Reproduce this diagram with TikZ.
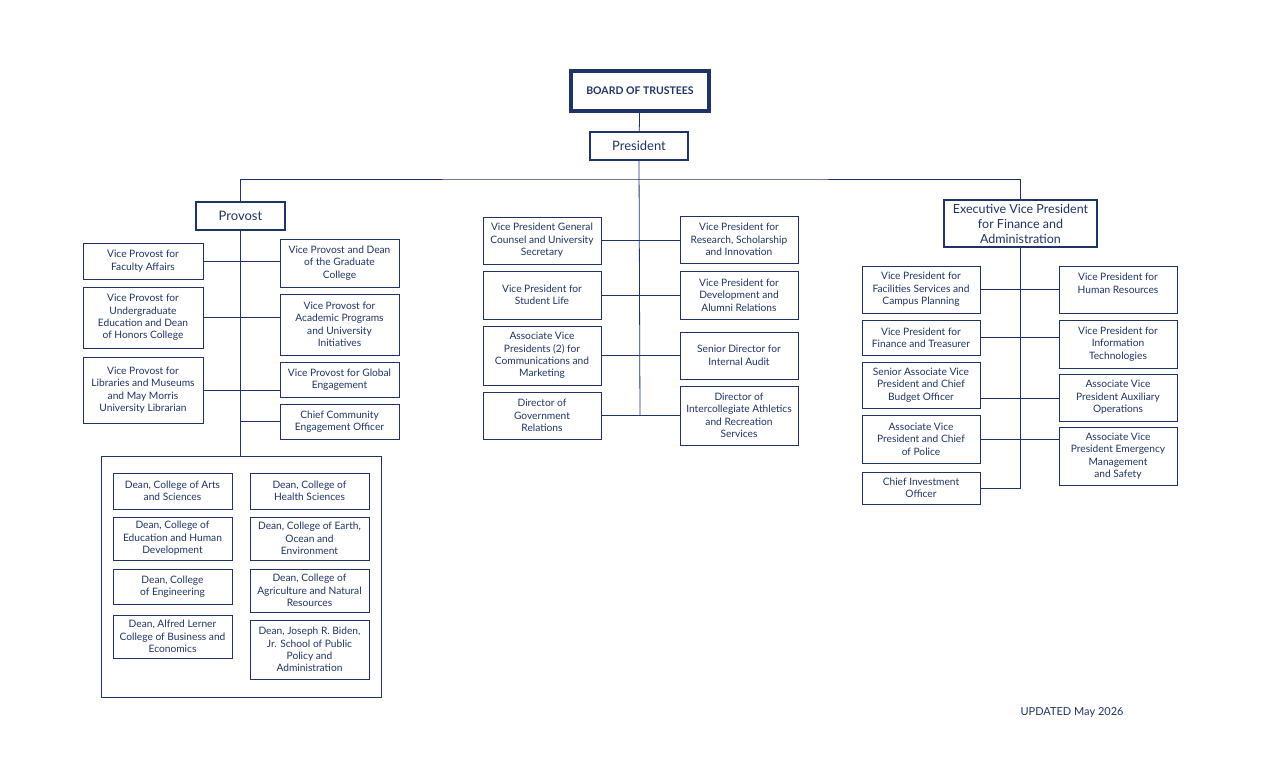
\documentclass[tikz,border=0pt]{standalone}
\usepackage{fontspec}
\setmainfont{Lato}
\definecolor{navy}{HTML}{1F3464}
\tikzset{
  box/.style={draw=navy, line width=0.8pt, inner sep=0pt, align=center, text=navy,
    font=\fontsize{10.2}{12.4}\selectfont},
  head/.style={box, line width=2.4pt, font=\fontsize{13}{15}\selectfont},
  wire/.style={draw=navy, line width=0.8pt}
}
\newcommand\orgbox[7][box]{\node[#1, minimum width=#5pt-#3pt, minimum height=#6pt-#4pt]
  (#2) at ({(#3+#5)/2},{(#4+#6)/2}) {#7};}
\begin{document}
\begin{tikzpicture}[x=1pt, y=-1pt]
\useasboundingbox (0,0) rectangle (1280,773);

% top
\orgbox[head, line width=3.4pt, font=\bfseries\fontsize{10.5}{12}\selectfont]{board}{571}{71}{709}{111}{BOARD OF TRUSTEES}
\orgbox[head]{pres}{590}{132}{688}{160}{President}
\coordinate (bar) at (640,179);
\coordinate (midend) at (640,416);

% provost
\orgbox[head]{prov}{196}{202}{285}{230}{Provost}
\orgbox{fa}{83}{243}{203}{279}{Vice Provost for\\Faculty Affairs}
\orgbox{ue}{83}{287}{203}{348}{Vice Provost for\\Undergraduate\\Education and Dean\\of Honors College}
\orgbox{lib}{83}{357}{203}{423}{Vice Provost for\\Libraries and Museums\\and May Morris\\University Librarian}
\orgbox{grad}{280}{239}{399}{287}{Vice Provost and Dean\\of the Graduate\\College}
\orgbox{acad}{280}{294}{399}{355}{Vice Provost for\\Academic Programs\\and University\\Initiatives}
\orgbox{glob}{280}{362}{399}{397}{Vice Provost for Global\\Engagement}
\orgbox{chief}{280}{404}{399}{439}{Chief Community\\Engagement Officer}
\orgbox{deans}{101}{456}{381}{697}{}
\orgbox{d1}{113}{473}{232}{509}{Dean, College of Arts\\and Sciences}
\orgbox{d2}{113}{517}{232}{560}{Dean, College of\\Education and Human\\Development}
\orgbox{d3}{113}{569}{232}{604}{Dean, College\\of Engineering}
\orgbox{d4}{113}{615}{232}{658}{Dean, Alfred Lerner\\College of Business and\\Economics}
\orgbox{d5}{250}{473}{369}{509}{Dean, College of\\Health Sciences}
\orgbox{d6}{250}{517}{369}{560}{Dean, College of Earth,\\Ocean and\\Environment}
\orgbox{d7}{250}{569}{369}{612}{Dean, College of\\Agriculture and Natural\\Resources}
\orgbox{d8}{250}{620}{369}{679}{Dean, Joseph R. Biden,\\Jr. School of Public\\Policy and\\Administration}

% middle
\orgbox{gc}{483}{217}{601}{264}{Vice President General\\Counsel and University\\Secretary}
\orgbox{sl}{483}{271}{601}{319}{Vice President for\\Student Life}
\orgbox{comm}{483}{326}{601}{385}{Associate Vice\\Presidents (2) for\\Communications and\\Marketing}
\orgbox{gov}{483}{392}{601}{439}{Director of\\Government\\Relations}
\orgbox{res}{680}{216}{798}{263}{Vice President for\\Research, Scholarship\\and Innovation}
\orgbox{dev}{680}{271}{798}{319}{Vice President for\\Development and\\Alumni Relations}
\orgbox{aud}{680}{332}{798}{379}{Senior Director for\\Internal Audit}
\orgbox{ath}{680}{386}{798}{445}{Director of\\Intercollegiate Athletics\\and Recreation\\Services}

% finance
\orgbox[head, font=\fontsize{12.5}{15}\selectfont]{evp}{944}{200}{1097}{247}{Executive Vice President\\for Finance and\\Administration}
\orgbox{fac}{862}{266}{980}{313}{Vice President for\\Facilities Services and\\Campus Planning}
\orgbox{fin}{862}{320}{980}{355}{Vice President for\\Finance and Treasurer}
\orgbox{bud}{862}{362}{980}{408}{Senior Associate Vice\\President and Chief\\Budget Officer}
\orgbox{pol}{862}{415}{980}{463}{Associate Vice\\President and Chief\\of Police}
\orgbox{cio}{862}{472}{980}{504}{Chief Investment\\Officer}
\orgbox{hr}{1059}{266}{1177}{313}{Vice President for\\Human Resources\\ }
\orgbox{it}{1059}{320}{1177}{368}{Vice President for\\Information\\Technologies}
\orgbox{aux}{1059}{374}{1177}{421}{Associate Vice\\President Auxiliary\\Operations}
\orgbox{emg}{1059}{427}{1177}{485}{Associate Vice\\President Emergency\\Management\\and Safety}

\node[text=navy, font=\fontsize{11}{12}\selectfont, anchor=west] (upd) at (1017,712) {UPDATED May 2026};

% lines
\draw[wire] (board) -- (pres);
\draw[wire] (pres.south) -- (midend);
\draw[wire] (prov.north) |- (bar) -| (evp.north);
\draw[wire] (prov.south) -- (deans.north -| prov.south);
\draw[wire] (fa.east) -- (fa.east -| grad.west);
\draw[wire] (ue.east) -- (ue.east -| acad.west);
\draw[wire] (lib.east) -- (lib.east -| glob.west);
\draw[wire] (chief.west) -- (chief.west -| prov.south);
\draw[wire] (gc.east) -- (gc.east -| res.west);
\draw[wire] (sl.east) -- (dev.west);
\draw[wire] (comm.east) -- (aud.west);
\draw[wire] (gov.east) -- (ath.west);
\draw[wire] (evp.south) -- (evp.south |- cio.east) -- (cio.east);
\draw[wire] (fac.east) -- (hr.west);
\draw[wire] (fin.east) -- (fin.east -| it.west);
\draw[wire] (bud.east |- 0,398) -- (aux.west |- 0,398);
\draw[wire] (pol.east) -- (pol.east -| emg.west);
\end{tikzpicture}
\end{document}
